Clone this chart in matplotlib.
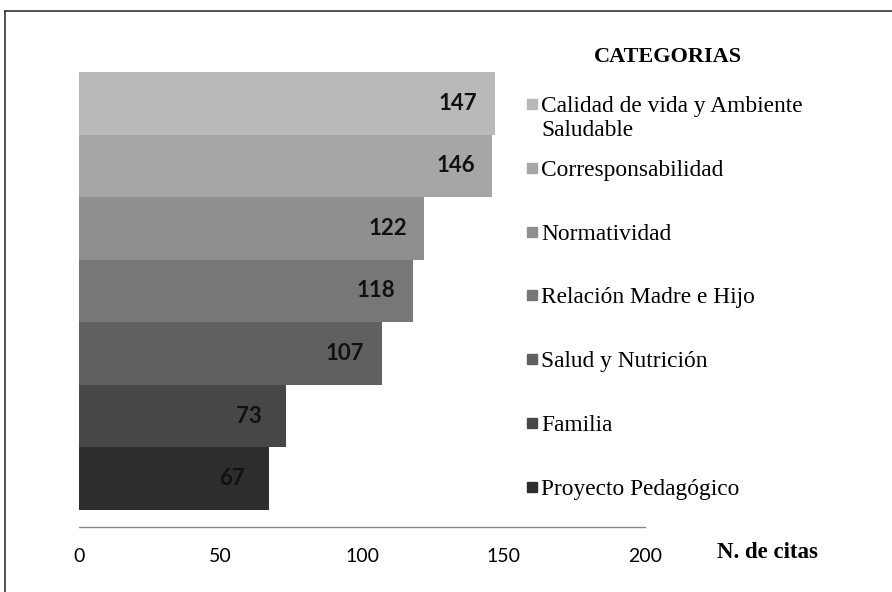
import matplotlib
matplotlib.use("Agg")
import matplotlib.pyplot as plt
from matplotlib.patches import Rectangle
from matplotlib.lines import Line2D
import numpy as np

categorias = ["Calidad de vida y Ambiente\nSaludable", "Corresponsabilidad",
              "Normatividad", "Relación Madre e Hijo", "Salud y Nutrición",
              "Familia", "Proyecto Pedagógico"]
citas = [147, 146, 122, 118, 107, 73, 67]
grises = ["#b9b9b9", "#a6a6a6", "#8f8f8f", "#777777", "#606060", "#474747", "#2d2d2d"]
ticks_x = [0, 50, 100, 150, 200]

W, H = 892, 592
fig = plt.figure(figsize=(W / 100, H / 100), dpi=100)
fig.patch.set_facecolor("white")

# axes placed in pixel terms
ax = fig.add_axes([79 / W, (H - 527) / H, 566 / W, (527 - 72) / H])

pos = np.arange(len(citas))[::-1]
ax.barh(pos, citas, height=1.0, color=grises, edgecolor="none")
for p, v in zip(pos, citas):
    ax.annotate(str(v), (v, p), xytext=(-26.5, 0), textcoords="offset points",
                ha="center", va="center", fontsize=16, fontweight="bold",
                family="Lato", color="#111111")

ax.set_xlim(0, 200)
ax.set_ylim(-0.772, 6.5)
ax.set_xticks(ticks_x)
ax.set_xticklabels([str(t) for t in ticks_x], family="Lato", fontsize=14)
ax.tick_params(axis="x", length=0, pad=15)
ax.set_yticks([])
for s in ["top", "right", "left"]:
    ax.spines[s].set_visible(False)
ax.spines["bottom"].set_color("#8a8a8a")
ax.spines["bottom"].set_linewidth(1.0)

# legend drawn by hand
fig.text(668 / W, 1 - 57 / H, "CATEGORIAS", ha="center", va="center",
         family="Liberation Serif", fontweight="bold", fontsize=16)
for i, (c, g) in enumerate(zip(categorias, grises)):
    yc = 104 + 63.8 * i
    fig.patches.append(Rectangle((527 / W, 1 - (yc + 5) / H), 10 / W, 10 / H,
                                 transform=fig.transFigure, color=g))
    for k, linea in enumerate(c.split("\n")):
        fig.text(541 / W, 1 - (yc + 8 + 24 * k) / H, linea, ha="left", va="baseline",
                 family="Liberation Serif", fontsize=16.8)

fig.text(767 / W, 1 - 553 / H, "N. de citas", ha="center", va="center",
         family="Liberation Serif", fontweight="bold", fontsize=16.5)

# frame around the picture
fig.lines.append(Line2D([5 / W, 5 / W], [0, 1 - 11 / H], transform=fig.transFigure,
                        color="#333333", linewidth=1.2))
fig.lines.append(Line2D([5 / W, 1], [1 - 11 / H, 1 - 11 / H], transform=fig.transFigure,
                        color="#333333", linewidth=1.2))

fig.savefig("out.png", dpi=100)
